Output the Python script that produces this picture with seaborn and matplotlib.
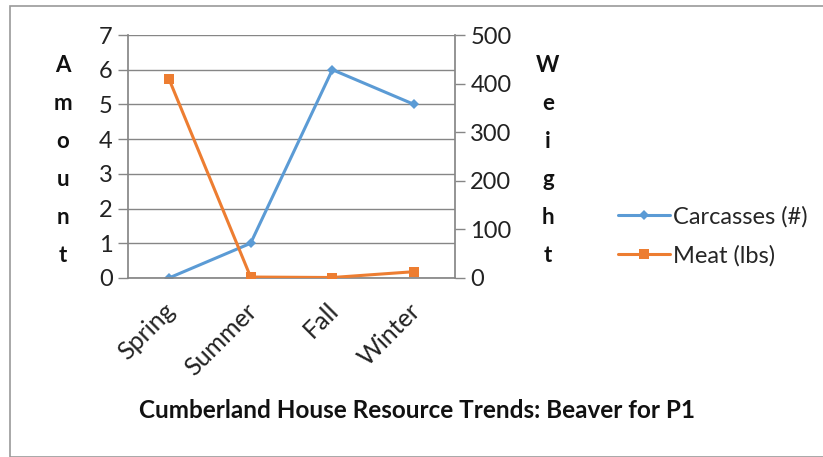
import matplotlib
matplotlib.use("Agg")
import matplotlib.pyplot as plt
import matplotlib.transforms as mtransforms
import seaborn as sns
import numpy as np
import pandas as pd
from matplotlib.lines import Line2D
from matplotlib.patches import Rectangle

seasons = ["Spring", "Summer", "Fall", "Winter"]
carcasses = [0, 1, 6, 5]
meat = [410, 2, 1, 13]
left_ticks = [0, 1, 2, 3, 4, 5, 6, 7]
right_ticks = [0, 100, 200, 300, 400, 500]
title = "Cumberland House Resource Trends: Beaver for P1"

sns.set_theme(style="white")
plt.rcParams['font.family'] = ['Lato', 'DejaVu Sans']

blue = "#5B9BD5"
orange = "#ED7D31"
grid_c = "#868686"
FS = 17

fig = plt.figure(figsize=(8.23, 4.57), dpi=100)
ax = fig.add_axes([128/823, 1-278/457, (455-128)/823, (278-35)/457])
ax2 = ax.twinx()

df = pd.DataFrame({"season": seasons, "carcasses": carcasses, "meat": meat})
df["pos"] = np.arange(len(seasons))

sns.lineplot(data=df, x="pos", y="carcasses", ax=ax, color=blue, marker="D",
             markersize=5, linewidth=2.2, markeredgewidth=0)
sns.lineplot(data=df, x="pos", y="meat", ax=ax2, color=orange, marker="s",
             markersize=7, linewidth=2.2, markeredgewidth=0)

ax.set_xlim(-0.5, len(seasons) - 0.5)
ax.set_ylim(0, 7)
ax2.set_ylim(0, 500)
ax.set_yticks(left_ticks)
ax2.set_yticks(right_ticks)
ax.set_yticklabels([str(t) for t in left_ticks], fontsize=FS, color="#222222")
ax2.set_yticklabels([str(t) for t in right_ticks], fontsize=FS, color="#222222")

# category axis: ticks between categories, labels at categories
ax.set_xticks(np.arange(-0.5, len(seasons)), minor=False)
ax.set_xticklabels([""] * (len(seasons) + 1))
ax.set_xticks(np.arange(len(seasons)), minor=True)
ax.set_xticklabels(seasons, minor=True, rotation=45, ha="right",
                   rotation_mode="anchor", fontsize=18, color="#222222")
ax.tick_params(axis="x", which="minor", length=0, pad=15)
offset = mtransforms.ScaledTranslation(-6/100, 0, fig.dpi_scale_trans)
for lab in ax.get_xticklabels(minor=True):
    lab.set_transform(lab.get_transform() + offset)
ax.tick_params(axis="x", which="major", length=7, width=1, color=grid_c, direction="out")
ax.tick_params(axis="y", length=7, width=1, color=grid_c, direction="out", pad=4, left=True)
ax2.tick_params(axis="y", length=7, width=1, color=grid_c, direction="out", pad=4, right=True)

ax.grid(axis="y", color=grid_c, linewidth=1)
ax.set_axisbelow(True)
for a in (ax, ax2):
    for s in a.spines.values():
        s.set_visible(False)
ax.spines["left"].set_visible(True)
ax.spines["left"].set_color(grid_c)
ax.spines["bottom"].set_visible(True)
ax.spines["bottom"].set_color(grid_c)
ax2.spines["right"].set_visible(True)
ax2.spines["right"].set_color(grid_c)
ax.set_xlabel("")
ax.set_ylabel("")
ax2.set_ylabel("")

# stacked vertical axis titles
fig.text(63/823, 1-161/457, "\n".join("Amount"), ha="center", va="center",
         fontsize=16, fontweight="bold", linespacing=2.0, color="#111111")
fig.text(548/823, 1-160/457, "\n".join("Weight"), ha="center", va="center",
         fontsize=16, fontweight="bold", linespacing=2.0, color="#111111")

fig.text(417/823, 1-410/457, title, ha="center", va="center",
         fontsize=17.5, fontweight="bold", color="#111111")

handles = [Line2D([0], [0], color=blue, marker="D", markersize=5, linewidth=2.2, markeredgewidth=0),
           Line2D([0], [0], color=orange, marker="s", markersize=7, linewidth=2.2, markeredgewidth=0)]
fig.legend(handles, ["Carcasses (#)", "Meat (lbs)"], loc="center left",
           bbox_to_anchor=(606/823, 1-236/457), frameon=False, fontsize=FS,
           handlelength=2.2, handletextpad=0.15, labelspacing=0.75, borderpad=0)

fig.patches.append(Rectangle((10/823, 0), 1.2, (457-6)/457, transform=fig.transFigure,
                             fill=False, edgecolor="#9a9a9a", linewidth=1.2))

fig.savefig("out.png", dpi=100)
